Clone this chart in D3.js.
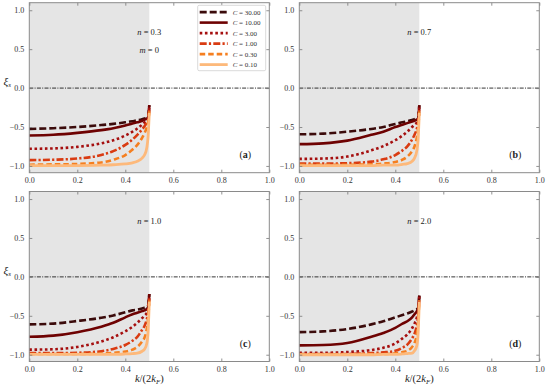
<!DOCTYPE html>
<html>
<head>
<meta charset="utf-8">
<script src="https://cdn.jsdelivr.net/npm/d3@7"></script>
<style>
  body { margin: 0; background: #fff; }
  svg text { font-family: "Liberation Serif", "DejaVu Serif", serif; }
</style>
</head>
<body>
<div id="chart"></div>
<script>
// sample points along k/(2k_F)
var xs = [0, 0.1, 0.2, 0.3, 0.35, 0.4, 0.43, 0.45, 0.47, 0.48, 0.49, 0.495, 0.5];

var cLabels = ["30.00", "10.00", "3.00", "1.00", "0.30", "0.10"];

// panel (a): n = 0.3, m = 0
var panelA = [
  [-0.525, -0.515, -0.5, -0.475, -0.46, -0.44, -0.425, -0.415, -0.4, -0.39, -0.38, -0.37, -0.22],
  [-0.61, -0.6, -0.575, -0.54, -0.515, -0.48, -0.455, -0.44, -0.42, -0.405, -0.39, -0.375, -0.22],
  [-0.78, -0.775, -0.755, -0.71, -0.67, -0.61, -0.56, -0.52, -0.47, -0.44, -0.41, -0.39, -0.25],
  [-0.925, -0.92, -0.905, -0.86, -0.81, -0.73, -0.66, -0.6, -0.53, -0.49, -0.44, -0.41, -0.28],
  [-0.985, -0.98, -0.975, -0.955, -0.92, -0.86, -0.79, -0.73, -0.64, -0.58, -0.5, -0.44, -0.3],
  [-0.995, -0.995, -0.995, -0.99, -0.985, -0.975, -0.96, -0.94, -0.9, -0.86, -0.76, -0.62, -0.32]
];
// panel (b): n = 0.7
var panelB = [
  [-0.594, -0.585, -0.56, -0.525, -0.5, -0.46, -0.44, -0.425, -0.41, -0.4, -0.39, -0.38, -0.22],
  [-0.72, -0.71, -0.675, -0.6, -0.56, -0.5, -0.47, -0.45, -0.43, -0.42, -0.405, -0.39, -0.22],
  [-0.91, -0.905, -0.88, -0.8, -0.745, -0.67, -0.61, -0.56, -0.5, -0.47, -0.44, -0.41, -0.25],
  [-0.97, -0.97, -0.965, -0.945, -0.915, -0.86, -0.8, -0.75, -0.66, -0.6, -0.52, -0.46, -0.28],
  [-0.985, -0.985, -0.985, -0.98, -0.97, -0.95, -0.92, -0.88, -0.81, -0.75, -0.63, -0.52, -0.3],
  [-0.995, -0.995, -0.995, -0.995, -0.99, -0.99, -0.98, -0.97, -0.94, -0.9, -0.8, -0.66, -0.32]
];
// panel (c): n = 1.0
var panelC = [
  [-0.61, -0.6, -0.567, -0.525, -0.495, -0.455, -0.43, -0.42, -0.405, -0.395, -0.385, -0.37, -0.22],
  [-0.77, -0.755, -0.71, -0.64, -0.59, -0.52, -0.48, -0.46, -0.44, -0.43, -0.41, -0.39, -0.22],
  [-0.935, -0.93, -0.9, -0.83, -0.775, -0.7, -0.64, -0.59, -0.53, -0.5, -0.46, -0.42, -0.25],
  [-0.98, -0.98, -0.975, -0.955, -0.925, -0.875, -0.82, -0.77, -0.68, -0.63, -0.54, -0.47, -0.28],
  [-0.99, -0.99, -0.99, -0.985, -0.975, -0.96, -0.935, -0.9, -0.83, -0.78, -0.66, -0.54, -0.3],
  [-0.995, -0.995, -0.995, -0.995, -0.995, -0.99, -0.985, -0.98, -0.955, -0.93, -0.85, -0.7, -0.32]
];
// panel (d): n = 2.0
var panelD = [
  [-0.71, -0.7, -0.67, -0.61, -0.57, -0.52, -0.49, -0.47, -0.445, -0.43, -0.415, -0.4, -0.24],
  [-0.88, -0.875, -0.85, -0.77, -0.72, -0.655, -0.6, -0.57, -0.52, -0.48, -0.44, -0.41, -0.24],
  [-0.975, -0.975, -0.965, -0.94, -0.91, -0.855, -0.79, -0.74, -0.66, -0.6, -0.52, -0.45, -0.26],
  [-0.99, -0.99, -0.99, -0.98, -0.97, -0.95, -0.91, -0.87, -0.79, -0.73, -0.62, -0.52, -0.28],
  [-0.995, -0.995, -0.995, -0.99, -0.99, -0.98, -0.965, -0.95, -0.9, -0.85, -0.73, -0.6, -0.3],
  [-1.0, -1.0, -1.0, -1.0, -0.995, -0.995, -0.99, -0.985, -0.98, -0.95, -0.88, -0.72, -0.32]
];

var xTicks = [0, 0.2, 0.4, 0.6, 0.8, 1.0];
var yTicks = [1.0, 0.5, 0.0, -0.5, -1.0];

var colors = ["#3b0b0b", "#6e0202", "#a50f0f", "#d93b12", "#f57f20", "#fdb97b"];
var dashes = ["7,3", null, "2.6,2.6", "7,2.2,2.2,2.2", "5.5,3", null];
var widths = [2.6, 2.6, 2.6, 2.6, 2.6, 2.8];

var W = 549, H = 388;
var svg = d3.select("#chart").append("svg").attr("width", W).attr("height", H);

var panels = [
  {data: panelA, left: 29.3, top: 2.7, tag: "a", texts: ["n = 0.3", "m = 0"], legend: true, ylab: true, xlab: false},
  {data: panelB, left: 299.3, top: 2.7, tag: "b", texts: ["n = 0.7"], legend: false, ylab: false, xlab: false},
  {data: panelC, left: 29.3, top: 191.5, tag: "c", texts: ["n = 1.0"], legend: false, ylab: true, xlab: true},
  {data: panelD, left: 299.3, top: 191.5, tag: "d", texts: ["n = 2.0"], legend: false, ylab: false, xlab: true}
];

var pw = 240, ph = 170;
var fmt = function(d) { return d3.format(".1f")(d).replace("-", "\u2212"); };

panels.forEach(function(p) {
  var g = svg.append("g").attr("transform", "translate(" + p.left + "," + p.top + ")");
  var x = d3.scaleLinear().domain([0, 1]).range([0, pw]);
  var y = d3.scaleLinear().domain([-1.087, 1.097]).range([ph, 0]);

  // shaded region k < k_F
  g.append("rect").attr("x", x(0)).attr("y", 0)
    .attr("width", x(0.5) - x(0)).attr("height", ph).attr("fill", "#e5e5e5");

  // zero line
  g.append("line").attr("x1", x(0)).attr("x2", x(1)).attr("y1", y(0)).attr("y2", y(0))
    .attr("stroke", "#000").attr("stroke-width", 0.8).attr("stroke-dasharray", "4,1.3,1,1.3");

  var line = d3.line().x(function(d, i) { return x(xs[i]); }).y(function(d) { return y(d); })
    .curve(d3.curveMonotoneX);

  p.data.forEach(function(s, i) {
    g.append("path").datum(s).attr("d", line)
      .attr("fill", "none").attr("stroke", colors[i]).attr("stroke-width", widths[i])
      .attr("stroke-dasharray", dashes[i]);
  });

  // axes with inward ticks on all sides
  var axes = [
    {ax: d3.axisBottom(x).tickValues(xTicks).tickFormat(fmt), t: "translate(0," + ph + ")"},
    {ax: d3.axisTop(x).tickValues(xTicks).tickFormat(""), t: "translate(0,0)"},
    {ax: d3.axisLeft(y).tickValues(yTicks).tickFormat(fmt), t: "translate(0,0)"},
    {ax: d3.axisRight(y).tickValues(yTicks).tickFormat(""), t: "translate(" + pw + ",0)"}
  ];
  axes.forEach(function(a) {
    var ag = g.append("g").attr("transform", a.t)
      .call(a.ax.tickSizeInner(-3).tickSizeOuter(0).tickPadding(5));
    ag.select(".domain").remove();
    ag.selectAll(".tick line").attr("stroke", "#777").attr("stroke-width", 0.8);
    ag.selectAll("text").attr("fill", "#333").style("font-size", "8px")
      .style("font-family", "'Liberation Serif', serif");
  });

  g.append("rect").attr("width", pw).attr("height", ph)
    .attr("fill", "none").attr("stroke", "#8a8a8a").attr("stroke-width", 1);

  // annotations
  p.texts.forEach(function(t, k) {
    var parts = t.split(" = ");
    var tx = g.append("text").attr("x", x(0.5)).attr("y", y(k === 0 ? 0.68 : 0.45))
      .attr("text-anchor", "middle").style("font-size", "8.5px").attr("fill", "#222");
    tx.append("tspan").style("font-style", "italic").text(parts[0]);
    tx.append("tspan").text(" = " + parts[1]);
  });

  var tg = g.append("text").attr("x", x(0.9)).attr("y", y(-0.9))
    .attr("text-anchor", "middle").style("font-size", "10px").attr("fill", "#222");
  tg.append("tspan").text("(");
  tg.append("tspan").style("font-weight", "bold").text(p.tag);
  tg.append("tspan").text(")");

  if (p.ylab) {
    var yl = g.append("text").attr("x", -22).attr("y", y(0.04))
      .attr("text-anchor", "middle").style("font-size", "11px").attr("fill", "#222");
    yl.append("tspan").style("font-style", "italic").text("\u03be");
    yl.append("tspan").attr("dy", 2.5).style("font-size", "7px").style("font-style", "italic").text("s");
  }
  if (p.xlab) {
    var xl = g.append("text").attr("x", x(0.5)).attr("y", ph + 20)
      .attr("text-anchor", "middle").style("font-size", "10.5px").attr("fill", "#222");
    xl.append("tspan").style("font-style", "italic").text("k");
    xl.append("tspan").text("/(2");
    xl.append("tspan").style("font-style", "italic").text("k");
    xl.append("tspan").attr("dy", 2).style("font-size", "7px").style("font-style", "italic").text("F");
    xl.append("tspan").attr("dy", -2).text(")");
  }

  if (p.legend) {
    var lg = g.append("g").attr("transform", "translate(" + (197.7 - p.left) + "," + (5.3 - p.top) + ")");
    lg.append("rect").attr("width", 68).attr("height", 65.4).attr("rx", 1.5)
      .attr("fill", "#fff").attr("stroke", "#cfcfcf").attr("stroke-width", 0.8);
    cLabels.forEach(function(c, i) {
      var ly = 6.8 + i * 10.5;
      lg.append("line").attr("x1", 2).attr("x2", 30).attr("y1", ly).attr("y2", ly)
        .attr("stroke", colors[i]).attr("stroke-width", widths[i]).attr("stroke-dasharray", dashes[i]);
      var lt = lg.append("text").attr("x", 35).attr("y", ly + 2.5)
        .style("font-size", "7px").attr("fill", "#333");
      lt.append("tspan").style("font-style", "italic").text("C");
      lt.append("tspan").text(" = " + c);
    });
  }
});
</script>
</body>
</html>
